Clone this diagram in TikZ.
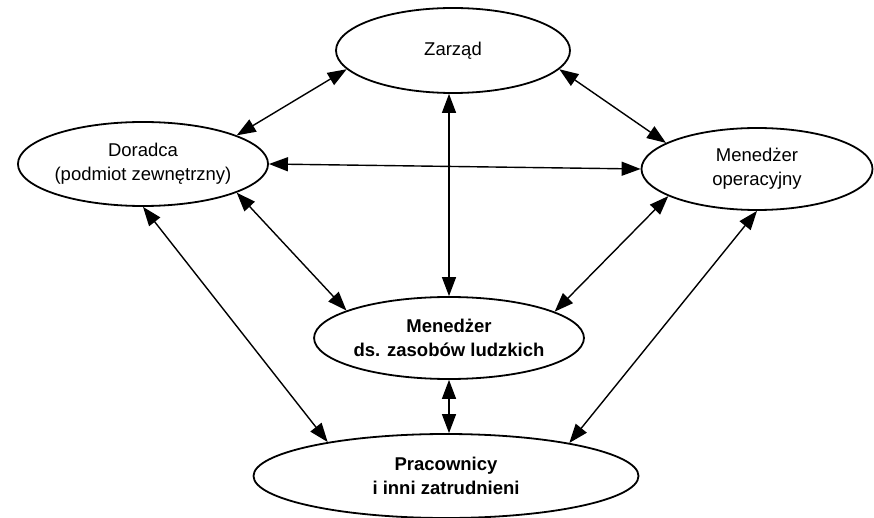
\documentclass[tikz,border=0pt]{standalone}
\usepackage{fontspec}
\setmainfont{Liberation Sans}
\usetikzlibrary{shapes.geometric,arrows.meta}
\begin{document}
\begin{tikzpicture}[x=1pt,y=-1pt,
  unit/.style={ellipse,draw,line width=1.8pt,inner sep=0pt,align=center,
    font=\fontsize{18.5}{24}\selectfont},
  keyunit/.style={unit,font=\fontsize{18.5}{24}\selectfont\bfseries},
  link/.style={line width=1.4pt,{Triangle[length=19pt,width=14pt]}-{Triangle[length=19pt,width=14pt]}}]
\useasboundingbox (0,0) rectangle (874,518);
% organisational units
\node[unit,minimum width=234pt,minimum height=85pt] (Z) at (453,50.5) {Zarząd};
\node[unit,minimum width=236pt,minimum height=84pt] (D) at (143,164) {Doradca\\(podmiot zewnętrzny)};
\node[unit,minimum width=231pt,minimum height=82pt] (O) at (757,169) {Menedżer\\operacyjny};
\node[keyunit,minimum width=236pt,minimum height=82pt] (H) at (449,338) {Menedżer\\ds. zasobów ludzkich};
\node[keyunit,minimum width=385pt,minimum height=84pt] (P) at (446,476) {Pracownicy\\i inni zatrudnieni};
% two-way relations
\draw[link] (Z.190) -- (D.17);
\draw[link] (Z.350) -- (O.164);
\draw[link] (Z.south -| H.north) -- (H.north);
\draw[link] (D.east) -- (O.west);
\draw[link] (D.343) -- (H.165);
\draw[link] (O.197) -- (H.14);
\draw[link] (D.south) -- (P.164);
\draw[link] (O.south) -- (P.15);
\draw[link] (H.south) -- (P.north -| H.south);
\end{tikzpicture}
\end{document}
